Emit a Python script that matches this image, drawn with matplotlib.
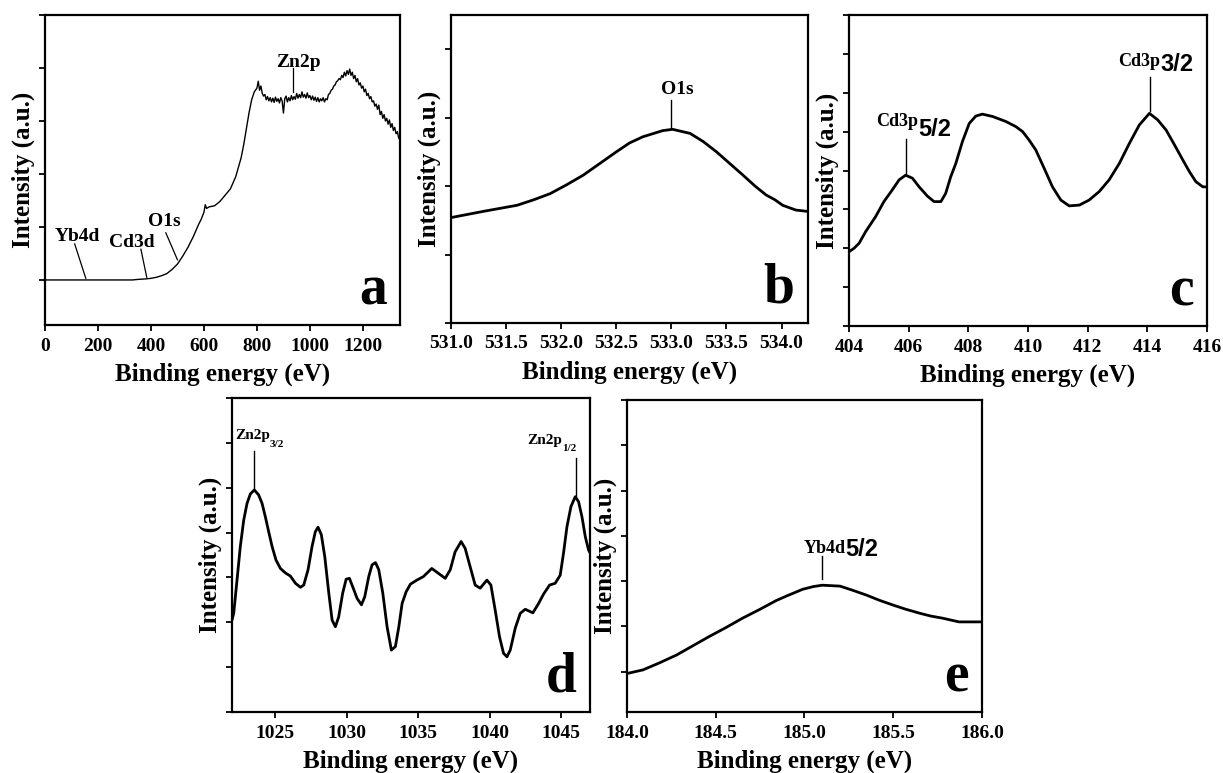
import matplotlib
matplotlib.use("Agg")
import matplotlib.pyplot as plt

plt.rcParams['font.family'] = ['Liberation Serif', 'DejaVu Serif']
plt.rcParams['font.weight'] = 'bold'

# ---------------- data ----------------
# (a) survey spectrum
a_x = [0, 320, 330, 350, 380, 400, 420, 440, 460, 480, 500, 520, 540, 560, 580, 590, 600, 605,
       610, 620, 640, 660, 680, 700, 720, 740, 750, 760, 770, 780, 790,
       800, 805, 810, 815, 820, 825, 830, 835, 840, 845, 850, 855, 860, 865, 870, 875, 880, 885,
       890, 895, 900, 905, 910, 915, 920, 925, 930, 935, 940, 945, 950, 955, 960, 965, 970, 975,
       980, 985, 990, 995, 1000, 1005, 1010, 1015, 1020, 1025, 1030, 1035, 1040, 1045, 1050,
       1055, 1060, 1065, 1070, 1075, 1080, 1085, 1090, 1095, 1100, 1105, 1110, 1115, 1120, 1125,
       1130, 1135, 1140, 1145, 1150, 1155, 1160, 1165, 1170, 1175, 1180, 1185, 1190, 1195, 1200,
       1205, 1210, 1215, 1220, 1225, 1230, 1235, 1240, 1245, 1250, 1255, 1260, 1265, 1270, 1275,
       1280, 1285, 1290, 1295, 1300, 1305, 1310, 1315, 1320, 1325, 1330, 1335, 1340]
a_y = [0.0, 0.0, 0.0, 0.01, 0.02, 0.03, 0.05, 0.08, 0.12, 0.2, 0.3, 0.45, 0.62, 0.82, 1.05, 1.15,
       1.28, 1.42, 1.35, 1.38, 1.40, 1.48, 1.60, 1.72, 1.95, 2.30, 2.55, 2.85, 3.15, 3.40, 3.55,
       3.62, 3.75, 3.58, 3.66, 3.52, 3.47, 3.50, 3.40, 3.46, 3.38, 3.44, 3.36, 3.43, 3.35, 3.45,
       3.37, 3.42, 3.34, 3.44, 3.38, 3.15, 3.42, 3.47, 3.36, 3.44, 3.38, 3.48, 3.40, 3.46, 3.41,
       3.52, 3.43, 3.50, 3.44, 3.55, 3.45, 3.50, 3.43, 3.53, 3.44, 3.48, 3.40, 3.47, 3.39, 3.45,
       3.37, 3.44, 3.36, 3.42, 3.38, 3.44, 3.36, 3.42, 3.40, 3.50, 3.52, 3.58, 3.60, 3.66, 3.68,
       3.74, 3.76, 3.80, 3.78, 3.86, 3.82, 3.92, 3.85, 3.95, 3.88, 3.98, 3.86, 3.92, 3.80, 3.86,
       3.74, 3.80, 3.68, 3.72, 3.62, 3.66, 3.55, 3.60, 3.48, 3.52, 3.42, 3.46, 3.36, 3.38, 3.28,
       3.32, 3.22, 3.30, 3.12, 3.18, 3.05, 3.12, 3.00, 3.05, 2.94, 3.02, 2.88, 2.95, 2.82, 2.88,
       2.76, 2.80, 2.68, 2.64]

# (b) O1s
b_x = [531.0, 531.29, 531.60, 531.75, 531.90, 532.05, 532.20, 532.35, 532.50, 532.62, 532.74,
       532.92, 533.01, 533.17, 533.29, 533.41, 533.53, 533.65, 533.76, 533.86, 533.94, 534.01,
       534.13, 534.24]
b_y = [1.54, 1.63, 1.72, 1.80, 1.89, 2.02, 2.16, 2.33, 2.50, 2.63, 2.72, 2.81, 2.83, 2.77, 2.65,
       2.50, 2.33, 2.16, 2.00, 1.87, 1.80, 1.72, 1.65, 1.63]

# (c) Cd3p
c_x = [404.0, 404.17, 404.34, 404.56, 404.89, 405.17, 405.45, 405.68, 405.90, 406.13, 406.35,
       406.63, 406.85, 407.08, 407.24, 407.41, 407.58, 407.80, 408.03, 408.25, 408.47, 408.81,
       409.26, 409.59, 409.82, 410.04, 410.26, 410.54, 410.82, 411.10, 411.38, 411.72, 412.05,
       412.39, 412.72, 413.06, 413.40, 413.73, 414.07, 414.35, 414.63, 414.91, 415.19, 415.41,
       415.63, 415.86, 416.0]
c_y = [1.91, 2.00, 2.13, 2.43, 2.81, 3.20, 3.50, 3.76, 3.88, 3.80, 3.58, 3.34, 3.20, 3.20, 3.41,
       3.84, 4.18, 4.74, 5.21, 5.40, 5.45, 5.39, 5.26, 5.13, 5.00, 4.78, 4.53, 4.06, 3.58, 3.24,
       3.09, 3.11, 3.24, 3.46, 3.76, 4.18, 4.70, 5.17, 5.47, 5.30, 5.04, 4.66, 4.27, 3.97, 3.71,
       3.58, 3.58]

# (d) Zn2p
d_x = [1022.0, 1022.12, 1022.35, 1022.58, 1022.82, 1023.05, 1023.28, 1023.56, 1023.86, 1024.10,
       1024.33, 1024.56, 1024.80, 1025.07, 1025.38, 1025.73, 1026.08, 1026.43, 1026.78, 1027.01,
       1027.31, 1027.59, 1027.82, 1028.01, 1028.24, 1028.48, 1028.76, 1028.99, 1029.22, 1029.45,
       1029.73, 1029.97, 1030.20, 1030.43, 1030.74, 1031.04, 1031.27, 1031.55, 1031.78, 1032.02,
       1032.25, 1032.53, 1032.83, 1033.13, 1033.41, 1033.65, 1033.88, 1034.16, 1034.46, 1034.91,
       1035.37, 1035.95, 1036.42, 1036.89, 1037.24, 1037.58, 1038.0, 1038.28, 1038.63, 1038.98,
       1039.33, 1039.80, 1040.08, 1040.38, 1040.68, 1040.96, 1041.20, 1041.43, 1041.78, 1042.13,
       1042.48, 1043.01, 1043.41, 1043.76, 1044.18, 1044.57, 1044.92, 1045.15, 1045.39, 1045.67,
       1045.97, 1046.20, 1046.44, 1046.67, 1046.90, 1047.0]
d_y = [2.05, 2.20, 2.94, 3.69, 4.28, 4.65, 4.86, 4.95, 4.84, 4.65, 4.35, 4.02, 3.69, 3.39, 3.20,
       3.10, 3.03, 2.87, 2.78, 2.83, 3.17, 3.69, 4.02, 4.12, 3.95, 3.46, 2.65, 2.05, 1.90, 2.12,
       2.65, 2.96, 2.98, 2.79, 2.53, 2.39, 2.57, 3.02, 3.28, 3.33, 3.17, 2.65, 1.90, 1.38, 1.46,
       1.90, 2.42, 2.68, 2.85, 2.94, 3.02, 3.20, 3.09, 2.98, 3.17, 3.57, 3.80, 3.65, 3.24, 2.83,
       2.76, 2.94, 2.83, 2.27, 1.68, 1.31, 1.23, 1.38, 1.87, 2.20, 2.29, 2.21, 2.42, 2.63, 2.83,
       2.87, 3.05, 3.54, 4.13, 4.58, 4.80, 4.69, 4.35, 3.91, 3.61, 3.55]

# (e) Yb4d
e_x = [184.0, 184.09, 184.18, 184.28, 184.37, 184.46, 184.56, 184.65, 184.75, 184.84, 184.91,
       184.99, 185.05, 185.10, 185.20, 185.27, 185.35, 185.42, 185.50, 185.57, 185.65, 185.71,
       185.78, 185.87, 186.0]
e_y = [-0.04, 0.04, 0.19, 0.37, 0.57, 0.77, 0.98, 1.18, 1.38, 1.57, 1.69, 1.82, 1.88, 1.91, 1.89,
       1.80, 1.69, 1.58, 1.47, 1.38, 1.29, 1.23, 1.18, 1.10, 1.10]

a_xticks = [0, 200, 400, 600, 800, 1000, 1200]
b_xticks = [531.0, 531.5, 532.0, 532.5, 533.0, 533.5, 534.0]
c_xticks = [404, 406, 408, 410, 412, 414, 416]
d_xticks = [1025, 1030, 1035, 1040, 1045]
e_xticks = [184.0, 184.5, 185.0, 185.5, 186.0]

W, H = 1223, 773
fig = plt.figure(figsize=(W / 100, H / 100), dpi=100)


def make_ax(l, r, t, b):
    return fig.add_axes([l / W, 1 - b / H, (r - l) / W, (b - t) / H])


def style(ax, xlim, ylim, xticks, yticks, fmt, letter):
    ax.set_xlim(*xlim)
    ax.set_ylim(*ylim)
    ax.set_xticks(xticks)
    ax.set_xticklabels([fmt.format(v) for v in xticks])
    ax.set_yticks(yticks)
    ax.set_yticklabels([])
    for s in ax.spines.values():
        s.set_linewidth(1.6)
    ax.tick_params(direction='out', length=4, width=1.3, labelsize=14, pad=5)
    for lab_ in ax.get_xticklabels():
        lab_.set_fontweight('bold')
    ax.set_xlabel('Binding energy (eV)', fontsize=18, fontweight='bold', labelpad=6)
    ax.set_ylabel('Intensity (a.u.)', fontsize=18, fontweight='bold', labelpad=-2)
    ax.text(0.962, 0.066, letter, transform=ax.transAxes, ha='right', va='baseline',
            fontsize=40, fontweight='bold')


def lab(ax, x, y, s, size=14, ha='center'):
    ax.text(x, y, s, ha=ha, va='baseline', fontsize=size, fontweight='bold')


def sub(ax, x, y, main, subs, yoff, size=13, ssize=13, sfam='Liberation Sans'):
    ax.text(x, y, main, ha='right', va='baseline', fontsize=size, fontweight='bold')
    ax.text(x, y - yoff, subs, ha='left', va='baseline', fontsize=ssize, fontweight='bold',
            family=sfam)


CURVE = dict(color='black', lw=2.0, solid_joinstyle='round', solid_capstyle='round')

# ---- a ----
axa = make_ax(45, 400, 15, 325)
axa.plot(a_x, a_y, color='black', lw=1.0)
style(axa, (0, 1340), (-0.85, 5), a_xticks, [0, 1, 2, 3, 4, 5], '{:d}', 'a')
lab(axa, 956, 4.02, 'Zn2p')
axa.plot([935, 935], [4.0, 3.55], color='black', lw=0.9)
lab(axa, 121, 0.73, 'Yb4d')
axa.plot([112, 154], [0.68, 0.03], color='black', lw=0.9)
lab(axa, 328, 0.63, 'Cd3d')
axa.plot([362, 384], [0.58, 0.05], color='black', lw=0.9)
lab(axa, 450, 1.01, 'O1s')
axa.plot([456, 500], [0.89, 0.38], color='black', lw=0.9)

# ---- b ----
axb = make_ax(451, 808, 15, 323)
axb.plot(b_x, b_y, **CURVE)
style(axb, (531.0, 534.24), (0, 4.5), b_xticks, [0, 1, 2, 3, 4], '{:.1f}', 'b')
lab(axb, 533.05, 3.35, 'O1s')
axb.plot([533.0, 533.0], [3.26, 2.84], color='black', lw=1.0)

# ---- c ----
axc = make_ax(849, 1207, 15, 326)
axc.plot(c_x, c_y, **CURVE)
style(axc, (404, 416), (0, 8), c_xticks, list(range(9)), '{:d}', 'c')
sub(axc, 406.32, 5.15, 'Cd3p', '5/2', 0.25, size=13, ssize=17)
axc.plot([405.9, 405.9], [4.81, 3.93], color='black', lw=1.0)
sub(axc, 414.43, 6.68, 'Cd3p', '3/2', 0.12, size=13, ssize=17)
axc.plot([414.09, 414.09], [6.41, 5.52], color='black', lw=1.0)

# ---- d ----
axd = make_ax(232, 590, 398, 712)
axd.plot(d_x, d_y, **CURVE)
style(axd, (1022, 1047), (0, 7), d_xticks, list(range(8)), '{:d}', 'd')
sub(axd, 1024.65, 6.08, 'Zn2p', '3/2', 0.18, size=11, ssize=8, sfam='Liberation Serif')
axd.plot([1023.57, 1023.57], [5.82, 4.97], color='black', lw=1.0)
sub(axd, 1045.02, 5.97, 'Zn2p', '1/2', 0.15, size=11, ssize=8, sfam='Liberation Serif')
axd.plot([1046.0, 1046.0], [5.67, 4.81], color='black', lw=1.0)

# ---- e ----
axe = make_ax(627, 982, 400, 712)
axe.plot(e_x, e_y, **CURVE)
style(axe, (184, 186), (-0.89, 6), e_xticks, list(range(7)), '{:.1f}', 'e')
sub(axe, 185.23, 2.63, 'Yb4d', '5/2', 0.08, size=13, ssize=17)
axe.plot([185.1, 185.1], [2.56, 2.04], color='black', lw=1.0)

fig.savefig('out.png', dpi=100)
